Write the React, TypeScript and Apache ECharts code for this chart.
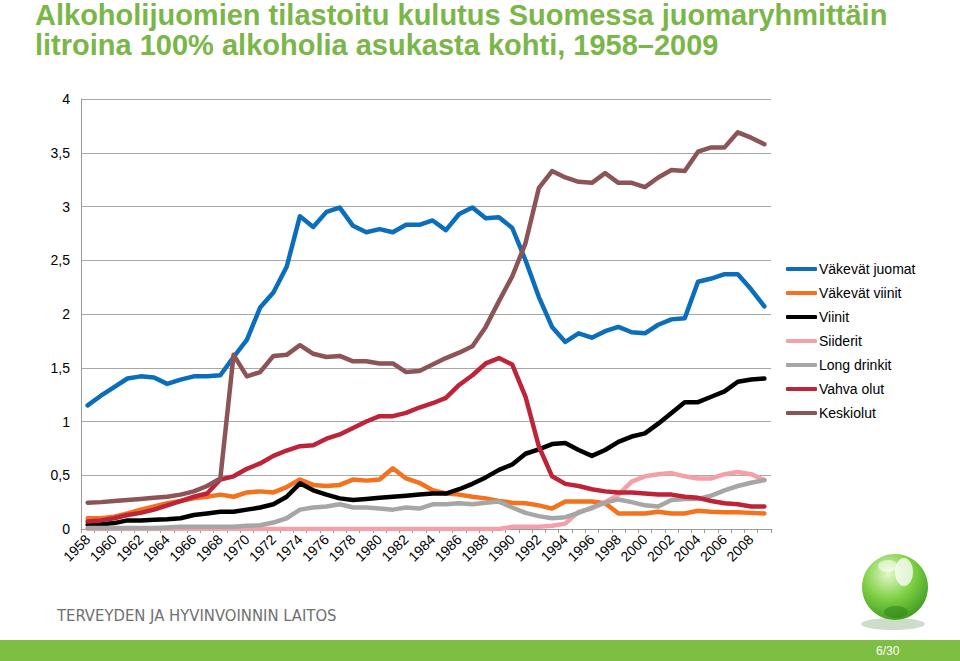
import React, { useEffect, useRef } from "react";
import * as echarts from "echarts";

const years: string[] = [
  "1958","1959","1960","1961","1962","1963","1964","1965","1966","1967",
  "1968","1969","1970","1971","1972","1973","1974","1975","1976","1977",
  "1978","1979","1980","1981","1982","1983","1984","1985","1986","1987",
  "1988","1989","1990","1991","1992","1993","1994","1995","1996","1997",
  "1998","1999","2000","2001","2002","2003","2004","2005","2006","2007",
  "2008","2009",
];

const vakevatJuomat = [
  1.15,1.24,1.32,1.40,1.42,1.41,1.35,1.39,1.42,1.42,
  1.43,1.60,1.76,2.06,2.20,2.44,2.91,2.81,2.95,2.99,
  2.82,2.76,2.79,2.76,2.83,2.83,2.87,2.78,2.93,2.99,
  2.89,2.90,2.80,2.50,2.16,1.88,1.74,1.82,1.78,1.84,
  1.88,1.83,1.82,1.90,1.95,1.96,2.30,2.33,2.37,2.37,
  2.23,2.07,
];
const vakevatViinit = [
  0.10,0.10,0.115,0.145,0.18,0.21,0.24,0.26,0.285,0.30,
  0.32,0.30,0.34,0.35,0.34,0.39,0.46,0.41,0.40,0.41,
  0.46,0.45,0.46,0.565,0.47,0.43,0.36,0.33,0.32,0.30,
  0.285,0.26,0.245,0.24,0.22,0.19,0.255,0.255,0.255,0.24,
  0.145,0.145,0.145,0.16,0.145,0.145,0.17,0.16,0.155,0.155,
  0.15,0.145,
];
const viinit = [
  0.04,0.045,0.055,0.08,0.08,0.085,0.09,0.10,0.13,0.145,
  0.16,0.16,0.18,0.20,0.23,0.30,0.425,0.36,0.32,0.285,
  0.27,0.28,0.29,0.30,0.31,0.32,0.33,0.33,0.37,0.42,
  0.48,0.55,0.60,0.70,0.74,0.79,0.80,0.735,0.68,0.735,
  0.81,0.86,0.89,0.98,1.08,1.18,1.18,1.23,1.28,1.37,
  1.39,1.40,
];
const siiderit = [
  0,0,0,0,0,0,0,0,0,0,
  0,0,0,0,0,0,0,0,0,0,
  0,0,0,0,0,0,0,0,0,0,
  0,0,0.02,0.02,0.02,0.03,0.05,0.16,0.19,0.25,
  0.32,0.44,0.49,0.51,0.52,0.49,0.47,0.47,0.51,0.53,
  0.51,0.455,
];
const longDrinkit = [
  0.01,0.01,0.01,0.01,0.01,0.01,0.015,0.02,0.02,0.02,
  0.02,0.02,0.03,0.035,0.06,0.10,0.18,0.20,0.21,0.23,
  0.20,0.20,0.19,0.18,0.20,0.19,0.23,0.23,0.24,0.23,
  0.245,0.255,0.20,0.15,0.12,0.10,0.11,0.15,0.20,0.245,
  0.275,0.25,0.22,0.21,0.27,0.28,0.28,0.31,0.36,0.40,
  0.43,0.455,
];
const vahvaOlut = [
  0.07,0.08,0.10,0.13,0.15,0.18,0.22,0.26,0.30,0.33,
  0.46,0.49,0.56,0.61,0.68,0.73,0.77,0.78,0.84,0.88,
  0.94,1.00,1.05,1.05,1.08,1.13,1.17,1.22,1.34,1.43,
  1.54,1.59,1.53,1.23,0.77,0.49,0.42,0.40,0.37,0.35,
  0.34,0.34,0.33,0.32,0.32,0.30,0.29,0.26,0.24,0.23,
  0.21,0.21,
];
const keskiolut = [
  0.245,0.25,0.26,0.27,0.28,0.29,0.30,0.32,0.35,0.40,
  0.47,1.62,1.42,1.46,1.61,1.62,1.71,1.63,1.60,1.61,
  1.56,1.56,1.54,1.54,1.46,1.47,1.53,1.59,1.64,1.70,
  1.88,2.12,2.35,2.66,3.17,3.33,3.27,3.23,3.22,3.31,
  3.22,3.22,3.18,3.27,3.34,3.33,3.51,3.55,3.55,3.69,
  3.64,3.58,
];

const seriesNames = [
  "Väkevät juomat",
  "Väkevät viinit",
  "Viinit",
  "Siiderit",
  "Long drinkit",
  "Vahva olut",
  "Keskiolut",
];
const seriesData = [vakevatJuomat, vakevatViinit, viinit, siiderit, longDrinkit, vahvaOlut, keskiolut];
const seriesColors = ["#0A6EBD", "#F4711E", "#000000", "#F4A0A8", "#A6A6A6", "#BE2438", "#8C5457"];

const titleLines = [
  "Alkoholijuomien tilastoitu kulutus Suomessa juomaryhmittäin",
  "litroina 100% alkoholia asukasta kohti, 1958–2009",
];
const footerText = "TERVEYDEN JA HYVINVOINNIN LAITOS";
const pageText = "6/30";

const FONT = '"Liberation Sans", Arial, Helvetica, sans-serif';

export default function App() {
  const ref = useRef<HTMLDivElement | null>(null);

  useEffect(() => {
    document.body.style.margin = "0";
    if (!ref.current) return;
    const chart = echarts.init(ref.current, null, { renderer: "svg", width: 960, height: 661 });

    const option: any = {
      animation: false,
      backgroundColor: "#ffffff",
      textStyle: { fontFamily: FONT },
      grid: { left: 81, right: 189, top: 99, bottom: 132, containLabel: false },
      legend: {
        orient: "vertical",
        left: 781,
        top: 257,
        icon: "roundRect",
        itemWidth: 31,
        itemHeight: 4,
        itemGap: 10,
        textStyle: { fontSize: 14, color: "#000", fontFamily: FONT, lineHeight: 14, padding: [0, 0, 0, -3] },
        data: seriesNames,
      },
      xAxis: {
        type: "category",
        data: years,
        boundaryGap: true,
        axisLine: { show: true, lineStyle: { color: "#9a9a9a", width: 1 } },
        axisTick: { show: true, interval: 0, length: 4, lineStyle: { color: "#9a9a9a" } },
        axisLabel: {
          interval: 1,
          rotate: 45,
          fontSize: 14,
          color: "#000",
          fontFamily: FONT,
          margin: 8,
        },
        splitLine: { show: false },
      },
      yAxis: {
        type: "value",
        min: 0,
        max: 4,
        interval: 0.5,
        axisLine: { show: true, lineStyle: { color: "#9a9a9a", width: 1 } },
        axisTick: { show: false },
        axisLabel: {
          fontSize: 14,
          color: "#000",
          fontFamily: FONT,
          margin: 11,
          formatter: (v: number) => String(v).replace(".", ","),
        },
        splitLine: { show: true, lineStyle: { color: "#a8a8a8", width: 1 } },
      },
      series: seriesNames.map((name, i) => ({
        name,
        type: "line",
        data: seriesData[i],
        showSymbol: false,
        symbol: "none",
        color: seriesColors[i],
        lineStyle: { width: 4.5, color: seriesColors[i], cap: "round", join: "round" },
        z: 2 + i,
      })),
      graphic: [
        {
          type: "text",
          left: 35,
          top: 0,
          style: { text: titleLines[0], font: `bold 29px ${FONT}`, fill: "#7AB648" },
        },
        {
          type: "text",
          left: 35,
          top: 30,
          style: { text: titleLines[1], font: `bold 29px ${FONT}`, fill: "#7AB648" },
        },
        {
          type: "text",
          left: 57,
          top: 607,
          style: {
            text: footerText,
            font: `16.5px "Liberation Sans Narrow", "DejaVu Sans Condensed", ${FONT}`,
            fill: "#707070",
          },
        },
        {
          type: "rect",
          shape: { x: 0, y: 640, width: 960, height: 21 },
          style: { fill: "#7DBE43" },
        },
        {
          type: "text",
          left: 876,
          top: 645,
          style: { text: pageText, font: `12px ${FONT}`, fill: "#ffffff" },
        },
        {
          type: "ellipse",
          shape: { cx: 893, cy: 624, rx: 32, ry: 6 },
          style: { fill: "rgba(60,120,40,0.25)" },
        },
        {
          type: "circle",
          shape: { cx: 895, cy: 587, r: 33 },
          style: {
            fill: new echarts.graphic.RadialGradient(0.4, 0.3, 0.85, [
              { offset: 0, color: "#e4f8c8" },
              { offset: 0.45, color: "#7fd044" },
              { offset: 1, color: "#2c8a16" },
            ]),
          },
        },
        {
          type: "ellipse",
          shape: { cx: 904, cy: 572, rx: 9, ry: 14 },
          style: { fill: "rgba(255,255,255,0.75)" },
        },
        {
          type: "ellipse",
          shape: { cx: 888, cy: 566, rx: 10, ry: 6 },
          style: { fill: "rgba(255,255,255,0.55)" },
        },
        {
          type: "ellipse",
          shape: { cx: 896, cy: 612, rx: 12, ry: 6 },
          style: { fill: "rgba(40,130,20,0.5)" },
        },
      ],
    };

    chart.setOption(option);
    return () => {
      chart.dispose();
    };
  }, []);

  return <div ref={ref} style={{ width: 960, height: 661 }} />;
}
